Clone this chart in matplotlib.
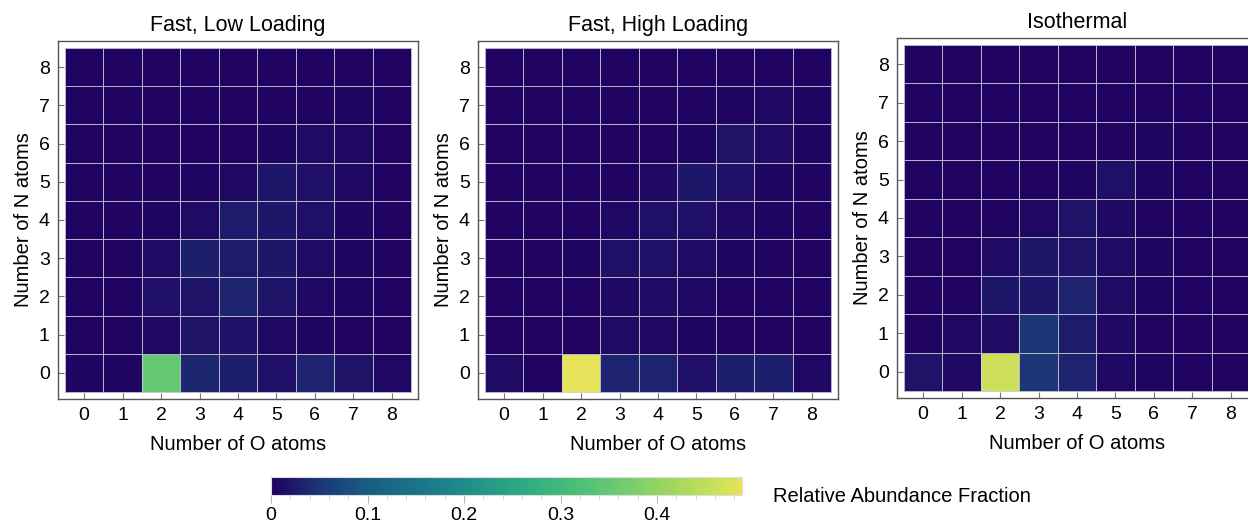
import numpy as np
import matplotlib
matplotlib.use("Agg")
import matplotlib.pyplot as plt
from matplotlib.colors import LinearSegmentedColormap, Normalize
from matplotlib.ticker import MultipleLocator

plt.rcParams['font.family'] = ['Liberation Sans', 'DejaVu Sans']

titles = ["Fast, Low Loading", "Fast, High Loading", "Isothermal"]
o_atoms = list(range(9))
n_atoms = list(range(9))

# rows = N atoms 0..8, cols = O atoms 0..8
low_loading = [
    [0.006, 0.004, 0.350, 0.038, 0.030, 0.015, 0.034, 0.019, 0.008],
    [0.002, 0.002, 0.008, 0.019, 0.015, 0.009, 0.004, 0.002, 0.002],
    [0.002, 0.002, 0.015, 0.019, 0.034, 0.019, 0.009, 0.004, 0.002],
    [0.002, 0.002, 0.011, 0.030, 0.026, 0.022, 0.011, 0.005, 0.002],
    [0.002, 0.002, 0.004, 0.011, 0.026, 0.022, 0.015, 0.006, 0.002],
    [0.002, 0.002, 0.002, 0.005, 0.009, 0.022, 0.015, 0.009, 0.002],
    [0.002, 0.002, 0.002, 0.002, 0.002, 0.006, 0.011, 0.008, 0.002],
    [0.002, 0.002, 0.002, 0.002, 0.002, 0.002, 0.002, 0.005, 0.002],
    [0.002, 0.002, 0.002, 0.002, 0.002, 0.002, 0.002, 0.002, 0.002],
]
high_loading = [
    [0.011, 0.002, 0.488, 0.034, 0.034, 0.015, 0.030, 0.030, 0.009],
    [0.002, 0.002, 0.002, 0.011, 0.009, 0.004, 0.002, 0.002, 0.002],
    [0.002, 0.002, 0.002, 0.009, 0.011, 0.008, 0.002, 0.002, 0.002],
    [0.002, 0.002, 0.004, 0.015, 0.015, 0.011, 0.005, 0.002, 0.002],
    [0.002, 0.002, 0.002, 0.008, 0.015, 0.015, 0.008, 0.004, 0.002],
    [0.002, 0.002, 0.002, 0.002, 0.008, 0.022, 0.015, 0.006, 0.002],
    [0.002, 0.002, 0.002, 0.002, 0.002, 0.006, 0.019, 0.011, 0.004],
    [0.002, 0.002, 0.002, 0.002, 0.002, 0.002, 0.004, 0.009, 0.005],
    [0.002, 0.002, 0.002, 0.002, 0.002, 0.002, 0.002, 0.002, 0.002],
]
isothermal = [
    [0.019, 0.008, 0.465, 0.050, 0.034, 0.009, 0.004, 0.002, 0.002],
    [0.002, 0.009, 0.011, 0.050, 0.026, 0.009, 0.002, 0.002, 0.002],
    [0.002, 0.002, 0.022, 0.022, 0.034, 0.011, 0.005, 0.002, 0.002],
    [0.002, 0.002, 0.011, 0.022, 0.019, 0.011, 0.006, 0.002, 0.002],
    [0.002, 0.002, 0.002, 0.008, 0.019, 0.009, 0.002, 0.002, 0.002],
    [0.002, 0.002, 0.002, 0.002, 0.005, 0.015, 0.006, 0.002, 0.002],
    [0.002, 0.002, 0.002, 0.002, 0.002, 0.002, 0.006, 0.002, 0.002],
    [0.002, 0.002, 0.002, 0.002, 0.002, 0.002, 0.002, 0.002, 0.002],
    [0.002, 0.002, 0.002, 0.002, 0.002, 0.002, 0.002, 0.002, 0.002],
]
panels = [low_loading, high_loading, isothermal]

vmax = 0.488
cmap = LinearSegmentedColormap.from_list("abund", [
    (0.00, "#200060"), (0.10, "#1b3575"), (0.20, "#195b80"),
    (0.31, "#1a7488"), (0.41, "#1f8d8a"), (0.51, "#29a585"),
    (0.61, "#3db97b"), (0.72, "#65c873"), (0.82, "#92d463"),
    (0.92, "#bdde5b"), (1.00, "#e6e35a")])
norm = Normalize(0, vmax)

fig = plt.figure(figsize=(12.48, 5.24), dpi=100)
W, H = 1248, 524
boxes = [(58, 41, 360, 358), (478, 41, 360, 358), (897, 38, 360, 360)]

for data, title, (x0, y0, w, h) in zip(panels, titles, boxes):
    ax = fig.add_axes([x0 / W, (H - y0 - h) / H, w / W, h / H])
    ax.pcolormesh(np.arange(-0.5, 9.5), np.arange(-0.5, 9.5), np.array(data),
                  cmap=cmap, norm=norm, edgecolors=(0.82, 0.82, 0.85, 0.85),
                  linewidth=0.72)
    ax.set_xlim(-0.68, 8.68)
    ax.set_ylim(-0.68, 8.68)
    ax.set_xticks(o_atoms)
    ax.set_yticks(n_atoms)
    ax.tick_params(direction='in', length=4, color='#777777', labelsize=14,
                   pad=6)
    for s in ax.spines.values():
        s.set_color('#555555')
        s.set_linewidth(1.0)
    ax.set_title(title, fontsize=15.5, pad=7)
    ax.set_xlabel("Number of O atoms", fontsize=14.5, labelpad=8)
    ax.set_ylabel("Number of N atoms", fontsize=14.5, labelpad=4)

cax = fig.add_axes([271 / W, (H - 495) / H, 471 / W, 18 / H])
cb = fig.colorbar(plt.cm.ScalarMappable(norm=norm, cmap=cmap), cax=cax,
                  orientation='horizontal')
cb.outline.set_edgecolor('#dddddd')
cb.set_ticks([0, 0.1, 0.2, 0.3, 0.4])
cb.set_ticklabels(["0", "0.1", "0.2", "0.3", "0.4"])
cax.xaxis.set_minor_locator(MultipleLocator(0.02))
cax.tick_params(which='major', length=6, color='#bbbbbb', labelsize=14, pad=3)
cax.tick_params(which='minor', length=3, color='#cccccc')
fig.text(773 / W, (H - 496) / H, "Relative Abundance Fraction", fontsize=14.5,
         va='center', ha='left')

fig.savefig("out.png", dpi=100)
